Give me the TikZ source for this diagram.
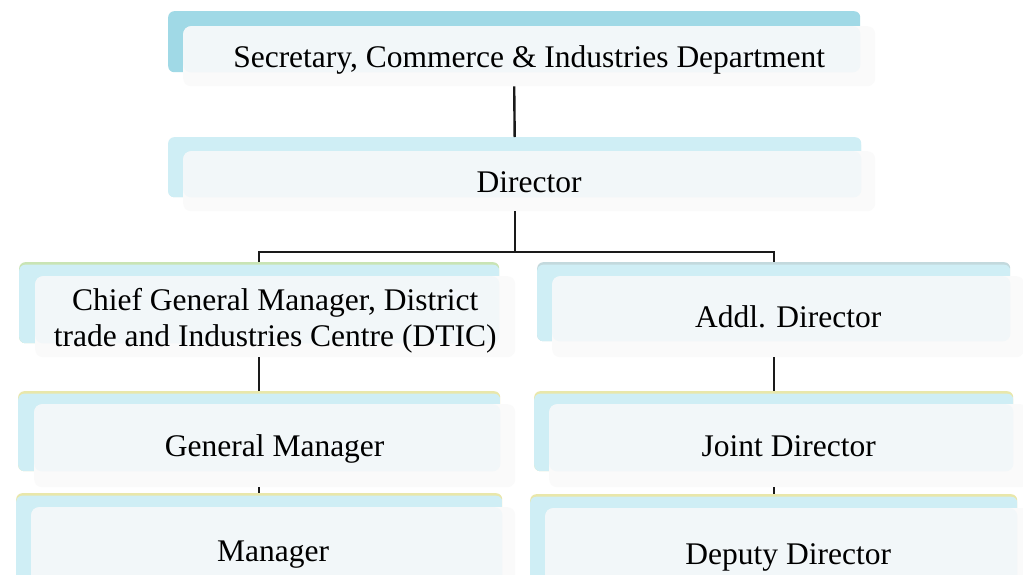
\documentclass[tikz,border=0pt]{standalone}
\usepackage{fontspec}
\setmainfont{Liberation Serif}
\definecolor{topback}{HTML}{A0D9E6}
\definecolor{backc}{HTML}{CFEEF5}
\definecolor{frontin}{HTML}{F2F7F9}
\definecolor{frontout}{HTML}{FAFAFA}
\definecolor{stripgreen}{HTML}{C9E4B4}
\definecolor{stripyellow}{HTML}{E9E7AA}
\definecolor{stripgrey}{HTML}{C3D9DD}
\definecolor{linec}{HTML}{1A1A1A}
\tikzset{
  backbox/.style={anchor=north west, inner sep=0pt, rounded corners=6pt, fill=#1,
    path picture={\fill[backc] ([yshift=-2.5pt]path picture bounding box.north west) rectangle (path picture bounding box.south east);}},
  topbackbox/.style={anchor=north west, inner sep=0pt, rounded corners=6pt, fill=topback},
  frontbox/.style={anchor=north west, inner sep=0pt, rounded corners=8pt, fill=frontout,
    align=center, font=\fontsize{31.5}{36}\selectfont, text height=30pt, text depth=8pt,
    path picture={\fill[frontin] (path picture bounding box.north west) rectangle (#1.south east);}},
  twoline/.style={text height=62pt, text depth=2pt},
  conn/.style={draw=linec, line width=2.4pt}
}
\begin{document}
\begin{tikzpicture}[x=1pt,y=-1pt]
\useasboundingbox (0,0) rectangle (1023,574);
\clip (0,0) rectangle (1023,574);
\fill[white] (0,0) rectangle (1023,574);
% back boxes
\node[topbackbox, minimum width=692pt, minimum height=61pt] (secB) at (168,11) {};
\node[backbox=backc, minimum width=693pt, minimum height=60pt] (dirB) at (168,137) {};
\node[backbox=stripgreen, minimum width=480pt, minimum height=81pt] (cgmB) at (19,262) {};
\node[backbox=stripgrey, minimum width=473pt, minimum height=79pt] (addB) at (537,262) {};
\node[backbox=stripyellow, minimum width=482pt, minimum height=80pt] (gmB) at (18,391) {};
\node[backbox=stripyellow, minimum width=479pt, minimum height=80pt] (jdB) at (534,391) {};
\node[backbox=stripyellow, minimum width=486pt, minimum height=100pt] (manB) at (16,493) {};
\node[backbox=stripyellow, minimum width=487pt, minimum height=100pt] (ddB) at (530,494) {};
% front boxes
\node[frontbox=secB, minimum width=692pt, minimum height=60pt] (sec) at (183,26) {Secretary, Commerce \& Industries Department};
\node[frontbox=dirB, minimum width=692pt, minimum height=60pt] (dir) at (183,151) {Director};
\node[frontbox=cgmB, twoline, minimum width=480pt, minimum height=81pt] (cgm) at (35,276) {Chief General Manager, District\\trade and Industries Centre (DTIC)};
\node[frontbox=addB, minimum width=472pt, minimum height=81pt] (add) at (552,276) {Addl. Director};
\node[frontbox=gmB, minimum width=481pt, minimum height=83pt] (gm) at (34,404) {General Manager};
\node[frontbox=jdB, minimum width=479pt, minimum height=83pt] (jd) at (549,404) {Joint Director};
\node[frontbox=manB, minimum width=484pt, minimum height=86pt] (man) at (31,507) {Manager};
\node[frontbox=ddB, minimum width=486pt, minimum height=90pt] (dd) at (545,508) {Deputy Director};
% connectors
\coordinate (bar) at (0,252);
\draw[conn] (secB.south |- sec.south) -- (dirB.north);
\draw[conn] (dirB.south |- dir.south) -- (dirB.south |- bar);
\draw[conn] (cgmB.north) -- (cgmB.north |- bar) -- (addB.north |- bar) -- (addB.north);
\draw[conn] (cgmB.south |- cgm.south) -- (gmB.north);
\draw[conn] (gmB.south |- gm.south) -- (manB.north);
\draw[conn] (addB.south |- add.south) -- (jdB.north);
\draw[conn] (jdB.south |- jd.south) -- (ddB.north);
\end{tikzpicture}
\end{document}
